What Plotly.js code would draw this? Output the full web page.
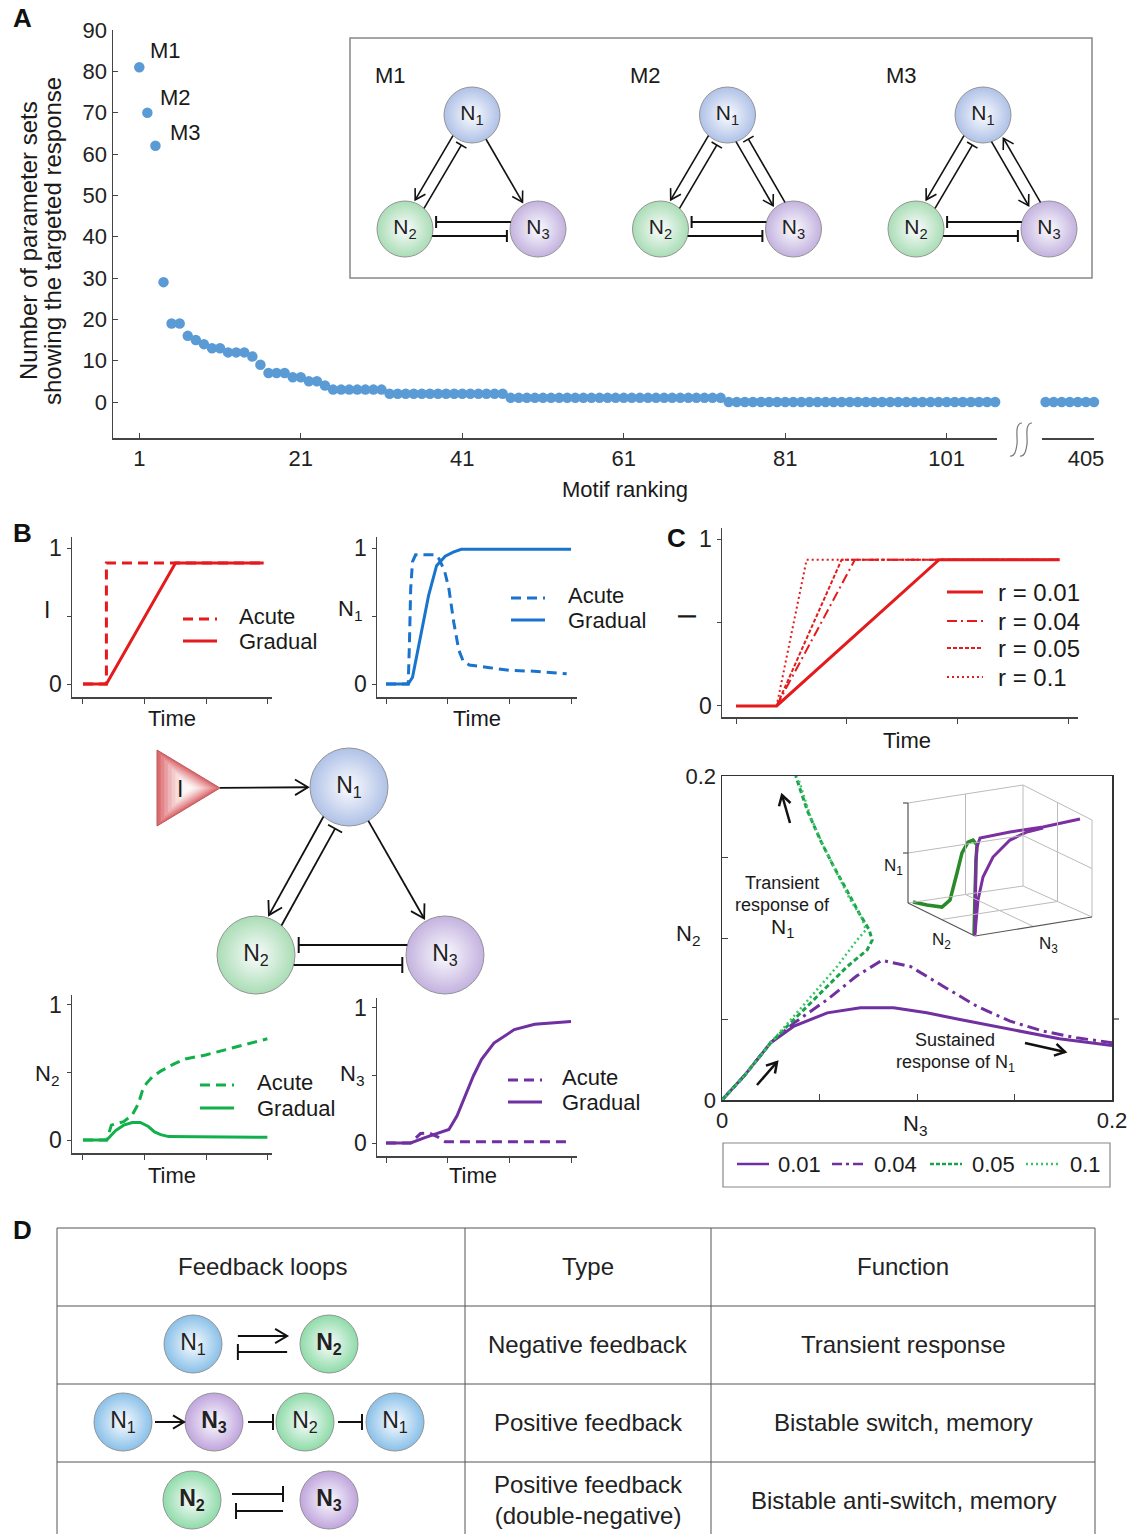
<!DOCTYPE html>
<html><head><meta charset="utf-8">
<script src="https://cdn.plot.ly/plotly-3.0.1.min.js"></script>
<style>body{margin:0;background:#fff}#g{width:1135px;height:1534px}</style>
</head><body><div id="g"></div>
<script>
// ---------------- DATA ----------------
// Panel A: number of parameter sets per motif rank
const motifCounts = [81,70,62,29,19,19,16,15,14,13,13,12,12,12,11,9,7,7,7,6,6,5,5,4,
  3,3,3,3,3,3,3,
  2,2,2,2,2,2,2,2,2,2,2,2,2,2,2,
  1,1,1,1,1,1,1,1,1,1,1,1,1,1,1,1,1,1,1,1,1,1,1,1,1,1,1,
  0,0,0,0,0,0,0,0,0,0,0,0,0,0,0,0,0,0,0,0,0,0,0,0,0,0,0,0,0,0,0,0,0,0];
const tailRanks = [399,400,401,402,403,404,405];
const tailCounts = [0,0,0,0,0,0,0];
const rankTicks = [1,21,41,61,81,101];
const countTicks = [0,10,20,30,40,50,60,70,80,90];
const motifLabels = ['M1','M2','M3'];

// Panel B (time in arbitrary units 0..300)
const timeTicks = [0,100,200,300];
const I_acute_t = [0,38,38,293],  I_acute_v = [0,0,0.89,0.89];
const I_grad_t  = [0,38,150,293], I_grad_v  = [0,0,0.89,0.89];
const N1_acute_t = [0,36,38,40,43,48,80,86,95,102,110,118,125,135,168,201,234,293];
const N1_acute_v = [0,0,0.3,0.7,0.9,0.95,0.95,0.92,0.83,0.7,0.45,0.25,0.17,0.14,0.12,0.10,0.095,0.075];
const N1_grad_t = [0,36,43,56,69,82,96,109,122,300];
const N1_grad_v = [0,0,0.05,0.35,0.65,0.87,0.94,0.97,0.99,0.99];
const N2_acute_t = [0,38.5,46,66,80,90,96,103,113,126,146,166,199,232,265,299];
const N2_acute_v = [0,0,0.11,0.136,0.186,0.27,0.36,0.42,0.47,0.51,0.56,0.60,0.63,0.67,0.71,0.75];
const N2_grad_t = [0,38.5,53,66,80,93,106,116,126,139,299];
const N2_grad_v = [0,0,0.07,0.11,0.13,0.13,0.10,0.06,0.04,0.025,0.02];
const N3_acute_t = [0,40,56,69,82,96,300];
const N3_acute_v = [0,0,0.07,0.075,0.05,0.01,0.01];
const N3_grad_t = [0,40,63,82,102,115,129,142,155,175,208,241,300];
const N3_grad_v = [0,0,0.04,0.07,0.10,0.2,0.35,0.5,0.62,0.74,0.84,0.88,0.9];

// Panel C top: input ramps for different rates r
const rLabels = ['r = 0.01','r = 0.04','r = 0.05','r = 0.1'];
const r01_t = [0,36.7,183.5,292.5], r01_v = [0,0,0.876,0.876];
const r04_t = [0,36.7,107.4,292.5], r04_v = [0,0,0.876,0.876];
const r05_t = [0,36.7,95.4,292.5],  r05_v = [0,0,0.876,0.876];
const r10_t = [0,36.7,63.8,292.5],  r10_v = [0,0,0.876,0.876];

// Panel C bottom: phase trajectories (N3, N2)
const ph01_n3 = [0,0.0114,0.025,0.037,0.054,0.071,0.088,0.105,0.122,0.139,0.156,0.173,0.2];
const ph01_n2 = [0,0.0149,0.0354,0.0456,0.0538,0.0569,0.0569,0.0538,0.0497,0.0456,0.0415,0.0378,0.0337];
const ph04_n3 = [0,0.0114,0.025,0.037,0.054,0.069,0.082,0.0966,0.1136,0.1307,0.1477,0.1647,0.1818,0.2];
const ph04_n2 = [0,0.0149,0.0354,0.0476,0.062,0.0765,0.0862,0.0824,0.0701,0.0579,0.0487,0.0425,0.0384,0.0354];
const ph05_n3 = [0,0.0114,0.025,0.037,0.0506,0.0642,0.0744,0.077,0.0755,0.0705,0.0642,0.0574,0.0506,0.0438,0.0378];
const ph05_n2 = [0,0.0149,0.0354,0.0497,0.066,0.0824,0.0926,0.0985,0.105,0.115,0.129,0.1438,0.16,0.1785,0.2];
const ph10_n3 = [0,0.0114,0.025,0.037,0.0472,0.059,0.0693,0.0738,0.0715,0.0659,0.059,0.0523,0.0455,0.0395];
const ph10_n2 = [0,0.0149,0.0354,0.0517,0.066,0.0824,0.0988,0.105,0.113,0.1233,0.1397,0.156,0.1744,0.197];
const phLabels = ['0.01','0.04','0.05','0.1'];

// Panel C inset (projected 3D view, normalised)
const in_green_u = [0.065,0.135,0.21,0.25,0.285,0.31,0.34,0.365,0.385,0.38,0.375,0.37];
const in_green_v = [0.261,0.242,0.23,0.273,0.436,0.558,0.624,0.636,0.606,0.515,0.315,0.061];
const in_p1_u = [0.375,0.38,0.385,0.4,0.55,0.715,0.9];
const in_p1_v = [0.061,0.515,0.594,0.648,0.685,0.715,0.764];
const in_p2_u = [0.375,0.39,0.415,0.465,0.55,0.635,0.715];
const in_p2_v = [0.073,0.273,0.412,0.533,0.636,0.685,0.709];

// Panel D table text
const tableHeader = ['Feedback loops','Type','Function'];
const tableType = ['Negative feedback','Positive feedback','Positive feedback<br>(double-negative)'];
const tableFunc = ['Transient response','Bistable switch, memory','Bistable anti-switch, memory'];

// ---------------- HELPERS ----------------
const W=1135, H=1534;
const FN="'Liberation Sans Narrow','Arial Narrow','Liberation Sans',Arial,sans-serif";
const FR="'Liberation Sans',Arial,sans-serif";
const shapes=[], annos=[];
const nodeX=[],nodeY=[],nodeS=[],nodeC=[],nodeT=[],nodeF=[];
function L(x0,y0,x1,y1,color,w,dash){shapes.push({type:'line',xref:'x10',yref:'y10',x0,y0,x1,y1,line:{color:color||'#111',width:w||1.5,dash:dash||'solid'}});}
function P(path,color,w,fill){shapes.push({type:'path',xref:'x10',yref:'y10',path,line:{color:color,width:w},fillcolor:fill||'rgba(0,0,0,0)'});}
function T(x,y,text,size,opts){annos.push(Object.assign({xref:'x10',yref:'y10',x,y,text,showarrow:false,font:{family:FN,size,color:'#1a1a1a'},xanchor:'center',yanchor:'middle'},opts||{}));}
function head(ex,ey,ux,uy,hs,lw,color){const px=-uy,py=ux,bx=ex-ux*hs,by=ey-uy*hs;P(`M ${bx+px*hs*0.6} ${by+py*hs*0.6} L ${ex} ${ey} L ${bx-px*hs*0.6} ${by-py*hs*0.6}`,color||'#111',lw);}
function edge(a,b,type,off,gs,ge,hs,lw){
  const dx=b.x-a.x,dy=b.y-a.y,d=Math.hypot(dx,dy),ux=dx/d,uy=dy/d,px=-uy,py=ux;
  const ra=Math.sqrt(Math.max(a.r*a.r-off*off,0)),rb=Math.sqrt(Math.max(b.r*b.r-off*off,0));
  const sx=a.x+px*off+ux*(ra+gs),sy=a.y+py*off+uy*(ra+gs);
  const ex=b.x+px*off-ux*(rb+ge),ey=b.y+py*off-uy*(rb+ge);
  L(sx,sy,ex,ey,'#111',lw);
  if(type==='arrow') head(ex,ey,ux,uy,hs,lw);
  else if(type==='bar') L(ex+px*hs,ey+py*hs,ex-px*hs,ey-py*hs,'#111',lw);
}
function arrow(x0,y0,x1,y1,hs,lw){const d=Math.hypot(x1-x0,y1-y0);L(x0,y0,x1,y1,'#111',lw);head(x1,y1,(x1-x0)/d,(y1-y0)/d,hs,lw);}
function node(n,color,text,fs){nodeX.push(n.x);nodeY.push(n.y);nodeS.push(2*n.r);nodeC.push(color);nodeT.push(text);nodeF.push(fs);return n;}
function nd(x,y,r){return {x,y,r};}
const blue='#8ea8de', green='#86cf96', purple='#ab92d2';
const blueD='#58a6e0', greenD='#5fcd84', purpleD='#a67fcf';
const S1='N<sub>1</sub>',S2='N<sub>2</sub>',S3='N<sub>3</sub>';

// ---------------- PANEL LETTERS ----------------
[['A',22,18],['B',22,533],['C',676,538],['D',22,1230]].forEach(p=>T(p[1],p[2],'<b>'+p[0]+'</b>',26,{font:{family:FR,size:26,color:'#111'}}));

// ---------------- PANEL A decorations ----------------
T(28,241,'Number of parameter sets',24,{textangle:-90,font:{family:FR,size:24,color:'#1a1a1a'}});
T(52,241,'showing the targeted response',24,{textangle:-90,font:{family:FR,size:24,color:'#1a1a1a'}});
T(625,489,'Motif ranking',22);
T(165,50,motifLabels[0],22); T(175,97,motifLabels[1],22); T(185,132,motifLabels[2],22);
// axis break
P('M 1022 423 C 1014 423, 1018 440, 1017 444 C 1016 452, 1014 457, 1010 456','#777',1.2);
P('M 1032 423 C 1024 423, 1028 440, 1027 444 C 1026 452, 1024 457, 1020 456','#777',1.2);
// inset box with motifs
shapes.push({type:'rect',xref:'x10',yref:'y10',x0:350,y0:38,x1:1092,y1:278,line:{color:'#888',width:1.5}});
[0,255.5,511].forEach((o,k)=>{
  const n1=node(nd(472+o,115,28),blue,S1,21), n2=node(nd(405+o,229,28),green,S2,21), n3=node(nd(538+o,229,28),purple,S3,21);
  edge(n1,n2,'arrow',6,0,3,10,1.6);
  edge(n2,n1,'bar',6,0,4,6,1.6);
  edge(n3,n2,'bar',7,0,4,6,2);
  edge(n2,n3,'bar',7,0,4,6,2);
  if(k===0) edge(n1,n3,'arrow',0,0,3,10,1.6);
  if(k===1){edge(n1,n3,'arrow',6,0,3,10,1.6); edge(n3,n1,'bar',6,0,4,6,1.6);}
  if(k===2){edge(n1,n3,'arrow',6,0,3,10,1.6); edge(n3,n1,'arrow',6,0,3,10,1.6);}
  T(390+o,75,motifLabels[k],22);
});

// ---------------- PANEL B decorations ----------------
function legendAB(x,y1,y2,color,tx){
  L(x,y1,x+34,y1,color,3,'10px,6px'); L(x,y2,x+34,y2,color,3);
  T(tx,y1-3,'Acute',22,{xanchor:'left'}); T(tx,y2,'Gradual',22,{xanchor:'left'});
}
legendAB(183,619,641,'#e41a1c',237);
legendAB(511,598,620,'#1874cd',566);
legendAB(200,1085,1108,'#12b04a',255);
legendAB(508,1080,1102,'#7030a0',560);
T(172,718,'Time',22); T(477,718,'Time',22); T(172,1175,'Time',22); T(473,1175,'Time',22);
T(47,610,'I',23); T(350,610,S1,22); T(47,1075,S2,22); T(352,1075,S3,22);
// diagram
const tri=[[157,750],[220,788],[157,826]];
const triCols=['#dc6c70','#e3868a','#e99fa2','#eeb5b8','#f3caca','#f7dcdc','#fbecec','#fdf6f6'];
triCols.forEach((c,i)=>{const f=i/8.5,cx=188,cy=788;const p=tri.map(q=>[cx+(q[0]-cx)*(1-f),cy+(q[1]-cy)*(1-f)]);
  P(`M ${p[0][0]} ${p[0][1]} L ${p[1][0]} ${p[1][1]} L ${p[2][0]} ${p[2][1]} Z`, i===0?'#b85a5a':'rgba(0,0,0,0)', i===0?1:0, c);});
T(180,789,'I',23);
const B1=node(nd(349,787,39),blue,S1,23), B2=node(nd(256,955,39),green,S2,23), B3=node(nd(445,955,39),purple,S3,23);
edge(nd(186,788,34),B1,'arrow',0,0,2,13,1.8);
edge(B1,B2,'arrow',8,0,3,13,1.8);
edge(B2,B1,'bar',8,0,5,8,1.8);
edge(B1,B3,'arrow',0,0,3,13,1.8);
edge(B3,B2,'bar',10,0,5,8,2);
edge(B2,B3,'bar',10,0,5,8,2);

// ---------------- PANEL C decorations ----------------
T(907,740,'Time',22);
T(687,617,'I',26,{textangle:-90});
const rStyles=[['solid',3],['10px,4px,2px,4px',2],['4px,2px',2],['2px,3px',2]];
[592,621,648,677].forEach((y,i)=>{L(947,y,983,y,'#e41a1c',rStyles[i][1],rStyles[i][0]); T(996,y,rLabels[i],24,{xanchor:'left'});});
T(688,935,S2,22); T(915,1125,S3,22);
T(782,883,'Transient',18); T(782,905,'response of',18); T(782,928,S1,21);
T(955,1040,'Sustained',18); T(955,1063,'response of '+S1,18);
arrow(790,823,782,795,10,2.5); arrow(757,1085,777,1062,10,2.5); arrow(1025,1043,1065,1052,10,2.5);
L(1112,1019,1119,1019,'#333',1.2);
// legend box
shapes.push({type:'rect',xref:'x10',yref:'y10',x0:723,y0:1143,x1:1110,y1:1187,line:{color:'#888',width:1.2}});
const phStyles=[['#7030a0','solid',2.5],['#7030a0','10px,4px,3px,4px',2.5],['#1aa34a','4px,2px',2.5],['#3cc46a','2px,3px',2.5]];
[[737,776],[832,872],[930,970],[1026,1068]].forEach((p,i)=>{L(p[0],1164,p[0]+32,1164,phStyles[i][0],phStyles[i][2],phStyles[i][1]); T(p[1],1164,phLabels[i],22,{xanchor:'left'});});
// inset 3D box
const gc='#bbb', ec='#555';
[[908,803,1023,785],[1023,785,1092,820],[1023,785,1023,886],[1092,820,1092,917],[908,903,1023,886],[1023,886,1092,917],
 [965.5,794,965.5,894.5],[908,853,1023,835.5],[1057.5,802.5,1057.5,901.5],[1023,835.5,1092,868.5],
 [941.5,919.5,1057.5,901.5],[965.5,894.5,1033.5,926.5]].forEach(s=>L(s[0],s[1],s[2],s[3],gc,1));
[[908,803,908,903],[908,903,975,936],[975,936,1092,917],[903,803,908,803],[903,853,908,853]].forEach(s=>L(s[0],s[1],s[2],s[3],ec,1.2));
T(893,867,S1,17); T(941,941,S2,17); T(1048,945,S3,17);

// ---------------- PANEL D table ----------------
[1228,1306,1384,1462].forEach(y=>L(57,y,1095,y,'#555',1));
[57,465,711,1095].forEach(x=>L(x,1228,x,1534,'#555',1));
const tf={family:FR,size:24,color:'#222'};
T(262,1266,tableHeader[0],24,{font:tf}); T(588,1266,tableHeader[1],24,{font:tf}); T(903,1266,tableHeader[2],24,{font:tf});
[1344,1422,1500].forEach((y,i)=>{T(588,y,tableType[i],24,{font:tf}); T(903,y,tableFunc[i],24,{font:tf});});
let a=node(nd(193,1344,29),blueD,S1,23), b=node(nd(329,1344,29),greenD,'<b>'+S2+'</b>',23);
edge(a,b,'arrow',-8,17,14,12,2); edge(b,a,'bar',-8,14,17,8,2);
const r1=node(nd(123,1422,29),blueD,S1,23), r2=node(nd(214,1422,29),purpleD,'<b>'+S3+'</b>',23),
      r3=node(nd(305,1422,29),greenD,S2,23), r4=node(nd(395,1422,29),blueD,S1,23);
edge(r1,r2,'arrow',0,3,1,11,2); edge(r2,r3,'bar',0,5,3,8,2); edge(r3,r4,'bar',0,4,4,8,2);
a=node(nd(192,1500,29),greenD,'<b>'+S2+'</b>',23); b=node(nd(329,1500,29),purpleD,'<b>'+S3+'</b>',23);
edge(a,b,'bar',-6,11.6,17.6,8,2); edge(b,a,'bar',-11,19.2,17.2,8,2);

// ---------------- TRACES ----------------
const traces=[];
function ln(x,y,xa,ya,color,w,dash){traces.push({type:'scatter',mode:'lines',x,y,xaxis:xa,yaxis:ya,line:{color,width:w,dash:dash||'solid'},hoverinfo:'skip',cliponaxis:false});}
traces.push({type:'scatter',mode:'markers',x:motifCounts.map((_,i)=>i+1),y:motifCounts,xaxis:'x',yaxis:'y',marker:{size:10.5,color:'#5b9bd5'},cliponaxis:false});
traces.push({type:'scatter',mode:'markers',x:tailRanks,y:tailCounts,xaxis:'x2',yaxis:'y',marker:{size:10.5,color:'#5b9bd5'},cliponaxis:false});
const dA='10px,6px';
ln(I_acute_t,I_acute_v,'x3','y3','#e41a1c',3,dA); ln(I_grad_t,I_grad_v,'x3','y3','#e41a1c',3);
ln(N1_acute_t,N1_acute_v,'x4','y4','#1874cd',3,dA); ln(N1_grad_t,N1_grad_v,'x4','y4','#1874cd',3);
ln(N2_acute_t,N2_acute_v,'x5','y5','#12b04a',3,dA); ln(N2_grad_t,N2_grad_v,'x5','y5','#12b04a',3);
ln(N3_acute_t,N3_acute_v,'x6','y6','#7030a0',3,dA); ln(N3_grad_t,N3_grad_v,'x6','y6','#7030a0',3);
ln(r10_t,r10_v,'x7','y7','#e41a1c',2,'2px,3px'); ln(r05_t,r05_v,'x7','y7','#e41a1c',2,'4px,2px');
ln(r04_t,r04_v,'x7','y7','#e41a1c',2,'10px,4px,2px,4px'); ln(r01_t,r01_v,'x7','y7','#e41a1c',3);
ln(ph01_n3,ph01_n2,'x8','y8','#7030a0',3); ln(ph04_n3,ph04_n2,'x8','y8','#7030a0',3,'12px,5px,3px,5px');
ln(ph05_n3,ph05_n2,'x8','y8','#1aa34a',3,'5px,3px'); ln(ph10_n3,ph10_n2,'x8','y8','#3cc46a',2.5,'2px,3px');
ln(in_green_u,in_green_v,'x9','y9','#2a8a2a',3.5); ln(in_p1_u,in_p1_v,'x9','y9','#7b2fa0',3); ln(in_p2_u,in_p2_v,'x9','y9','#7b2fa0',3);
traces.push({type:'scatter',mode:'markers+text',x:nodeX,y:nodeY,text:nodeT,xaxis:'x10',yaxis:'y10',textposition:'middle center',
  textfont:{family:FN,size:nodeF,color:'#222'},marker:{size:nodeS,color:nodeC,gradient:{type:'radial',color:'#fbfcff'},line:{color:'#666',width:1}},cliponaxis:false,hoverinfo:'skip'});

// ---------------- AXES ----------------
function dx(a,b){return [a/W,b/W];}
function dy(top,bot){return [1-bot/H,1-top/H];}
const tickF={family:FN,size:23,color:'#222'};
const aF={family:FN,size:22,color:'#222'};
const base={showgrid:false,zeroline:false,showline:true,linecolor:'#444',linewidth:1.5,tickcolor:'#444',fixedrange:true};
function tAx(dom,rng,anchor){return Object.assign({},base,{domain:dom,range:rng,anchor,tickvals:timeTicks,showticklabels:false,ticks:'outside',ticklen:5});}
function vAx(dom,rng,anchor){return Object.assign({},base,{domain:dom,range:rng,anchor,tickvals:[0,0.5,1],ticktext:['0','','1'],ticks:'outside',ticklen:4,tickfont:tickF});}
const layout={width:W,height:H,margin:{l:0,r:0,t:0,b:0},paper_bgcolor:'#fff',plot_bgcolor:'rgba(0,0,0,0)',showlegend:false,
  xaxis:Object.assign({},base,{domain:dx(113,997),range:[-2.257,107.23],anchor:'y',tickvals:rankTicks,ticks:'inside',ticklen:5,tickfont:aF,ticklabelstandoff:0}),
  xaxis2:Object.assign({},base,{domain:dx(1042,1094),range:[398.56,405],anchor:'y',tickvals:[405],ticks:'inside',ticklen:5,tickfont:aF,ticklabelstandoff:0,ticklabelshift:-8}),
  yaxis:Object.assign({},base,{domain:dy(30,438),range:[-8.71,90],anchor:'x',tickvals:countTicks,ticks:'inside',ticklen:5,tickfont:aF}),
  xaxis3:tAx(dx(72,272),[-17.8,306.5],'y3'), yaxis3:vAx(dy(537,697),[-0.0956,1.081],'x3'),
  xaxis4:tAx(dx(377,577),[-14.6,309.7],'y4'), yaxis4:vAx(dy(537,697),[-0.0956,1.081],'x4'),
  xaxis5:tAx(dx(72,272),[-17.8,306.5],'y5'), yaxis5:vAx(dy(995,1153),[-0.0963,1.074],'x5'),
  xaxis6:tAx(dx(377,577),[-14.6,309.7],'y6'), yaxis6:vAx(dy(998,1156),[-0.0963,1.074],'x6'),
  xaxis7:tAx(dx(722,1078),[-12.65,309],'y7'), yaxis7:vAx(dy(528,717),[-0.066,1.066],'x7'),
  xaxis8:Object.assign({},base,{domain:dx(722,1112),range:[0,0.2],anchor:'y8',mirror:true,linecolor:'#333',tickvals:[0,0.05,0.1,0.15,0.2],ticktext:['0','','','','0.2'],ticks:'inside',ticklen:6,tickfont:aF}),
  yaxis8:Object.assign({},base,{domain:dy(776,1100),range:[0,0.2],anchor:'x8',mirror:true,linecolor:'#333',tickvals:[0,0.05,0.1,0.15,0.2],ticktext:['0','','','','0.2'],ticks:'inside',ticklen:6,tickfont:aF}),
  xaxis9:{domain:dx(900,1100),range:[0,1],anchor:'y9',visible:false,fixedrange:true},
  yaxis9:{domain:dy(780,945),range:[0,1],anchor:'x9',visible:false,fixedrange:true},
  xaxis10:{domain:[0,1],range:[0,W],anchor:'y10',visible:false,fixedrange:true},
  yaxis10:{domain:[0,1],range:[H,0],anchor:'x10',visible:false,fixedrange:true},
  shapes, annotations:annos};
Plotly.newPlot('g',traces,layout,{staticPlot:true});
</script></body></html>
